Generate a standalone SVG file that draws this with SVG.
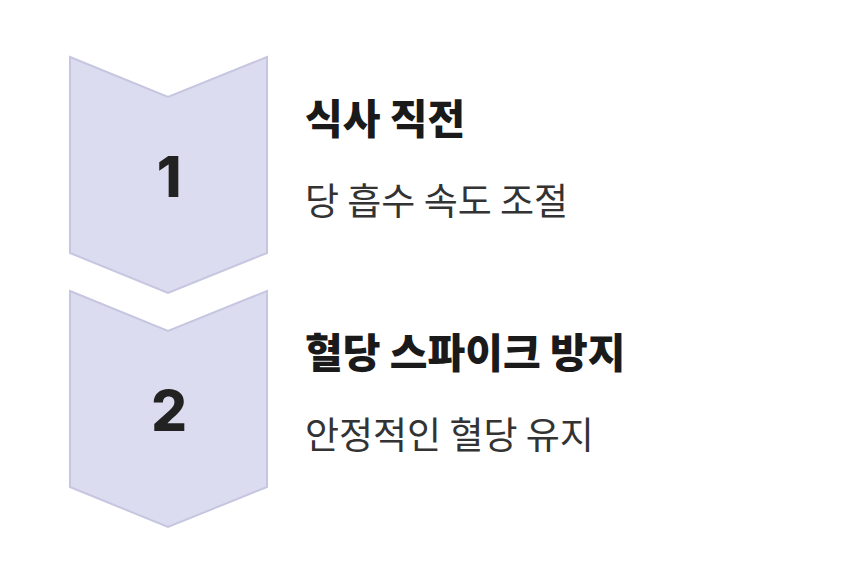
<svg xmlns="http://www.w3.org/2000/svg" width="856" height="574" viewBox="0 0 856 574">
<style>
.chev{fill:#dcdcf0;stroke:#c6c6e0;stroke-width:2}
.num{font-family:"Inter","Noto Sans",sans-serif;font-weight:800;font-size:56px;fill:#222;text-anchor:middle}
.title{font-family:"Noto Sans CJK KR",sans-serif;font-weight:900;font-size:41px;fill:#1a1a1a}
.desc{font-family:"Noto Sans CJK KR",sans-serif;font-weight:400;font-size:37px;fill:#333}
</style>
<rect width="856" height="574" fill="#fff"/>
<g id="step1">
<polygon class="chev" points="70,57 168,97 267,57 267,253 168,293 70,253"/>
<text class="num" x="169" y="197">1</text>
<text class="title" x="305" y="134">식사 직전</text>
<text class="desc" x="305" y="215">당 흡수 속도 조절</text>
</g>
<g id="step2">
<polygon class="chev" points="70,291 168,331 267,291 267,487 168,527 70,487"/>
<text class="num" x="169" y="431">2</text>
<text class="title" x="305" y="368">혈당 스파이크 방지</text>
<text class="desc" x="305" y="449">안정적인 혈당 유지</text>
</g>
<g id="connectors"></g>
</svg>
